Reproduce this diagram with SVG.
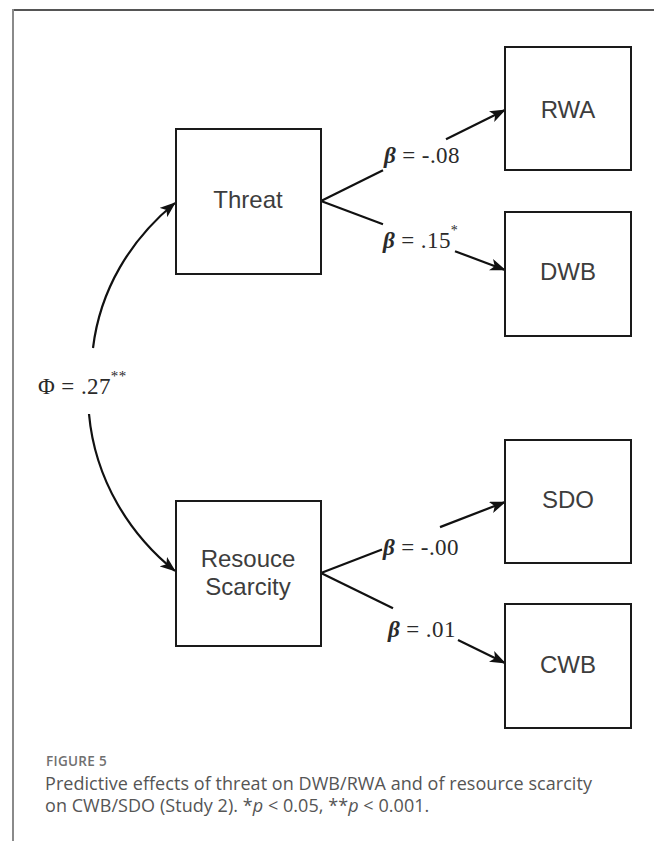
<svg xmlns="http://www.w3.org/2000/svg" width="654" height="841" viewBox="0 0 654 841">
  <style>
    .box { fill: #ffffff; stroke: #1a1a1a; stroke-width: 2; }
    .node-label { font-family: "Liberation Sans", Arial, sans-serif; font-size: 24px; fill: #3d3d3d; text-anchor: middle; }
    .edge { fill: none; stroke: #111111; stroke-width: 2.2; }
    .coef { font-family: "Liberation Serif", "Times New Roman", serif; font-size: 23px; fill: #2a2a2a; letter-spacing: 0.4px; }
    .beta { font-style: italic; font-weight: bold; }
    .cap-head { font-family: "Open Sans", "Noto Sans", sans-serif; font-size: 13.5px; font-weight: 600; fill: #707070; letter-spacing: 0.3px; }
    .cap { font-family: "Open Sans", "Noto Sans", sans-serif; font-size: 18px; fill: #555555; letter-spacing: 0.05px; }
  </style>
  <defs>
    <marker id="arrow" viewBox="0 0 16 12" refX="15" refY="6" markerWidth="16" markerHeight="12" markerUnits="userSpaceOnUse" orient="auto">
      <path d="M0,0 L16,6 L0,12 L4,6 Z" fill="#111111"/>
    </marker>
  </defs>

  <!-- panel frame -->
  <line x1="12" y1="10" x2="654" y2="10" stroke="#555555" stroke-width="2"/>
  <line x1="13" y1="9" x2="13" y2="841" stroke="#8a8a8a" stroke-width="2"/>

  <!-- connectors -->
  <g id="connectors">
    <!-- covariance between predictors -->
    <path class="edge" d="M93,348 C100,290 130,240 175,203" marker-end="url(#arrow)"/>
    <path class="edge" d="M89,414 C95,480 130,535 175,571" marker-end="url(#arrow)"/>
    <!-- Threat -> RWA -->
    <line class="edge" x1="321" y1="201" x2="383" y2="170.3"/>
    <line class="edge" x1="446" y1="139.2" x2="505" y2="110" marker-end="url(#arrow)"/>
    <!-- Threat -> DWB -->
    <line class="edge" x1="321" y1="201" x2="383" y2="224.2"/>
    <line class="edge" x1="455" y1="251.2" x2="505" y2="270" marker-end="url(#arrow)"/>
    <!-- Resource Scarcity -> SDO -->
    <line class="edge" x1="321" y1="573" x2="382" y2="549.5"/>
    <line class="edge" x1="440" y1="527.1" x2="505" y2="502" marker-end="url(#arrow)"/>
    <!-- Resource Scarcity -> CWB -->
    <line class="edge" x1="321" y1="573" x2="393" y2="608.2"/>
    <line class="edge" x1="458" y1="640" x2="505" y2="663" marker-end="url(#arrow)"/>

    <!-- path coefficients -->
    <text class="coef" x="384" y="163"><tspan class="beta">β</tspan> = -.08</text>
    <text class="coef" x="383" y="248"><tspan class="beta">β</tspan> = .15<tspan dy="-13" font-size="14">*</tspan></text>
    <text class="coef" x="383" y="555"><tspan class="beta">β</tspan> = -.00</text>
    <text class="coef" x="388" y="637"><tspan class="beta">β</tspan> = .01</text>
    <text class="coef" x="38" y="394">Φ = .27<tspan dy="-13" font-size="15">**</tspan></text>
  </g>

  <!-- predictors -->
  <g id="threat">
    <rect class="box" x="176" y="129" width="145" height="145"/>
    <text class="node-label" x="248" y="208">Threat</text>
  </g>
  <g id="resource-scarcity">
    <rect class="box" x="176" y="501" width="145" height="145"/>
    <text class="node-label" x="248" y="567">Resouce</text>
    <text class="node-label" x="248" y="595">Scarcity</text>
  </g>

  <!-- outcomes -->
  <g id="rwa">
    <rect class="box" x="505" y="47" width="126" height="123"/>
    <text class="node-label" x="568" y="118">RWA</text>
  </g>
  <g id="dwb">
    <rect class="box" x="505" y="212" width="126" height="124"/>
    <text class="node-label" x="568" y="280">DWB</text>
  </g>
  <g id="sdo">
    <rect class="box" x="505" y="440" width="126" height="123"/>
    <text class="node-label" x="568" y="508">SDO</text>
  </g>
  <g id="cwb">
    <rect class="box" x="505" y="604" width="126" height="124"/>
    <text class="node-label" x="568" y="673">CWB</text>
  </g>

  <!-- caption -->
  <text class="cap-head" x="46" y="766">FIGURE 5</text>
  <text class="cap" x="45" y="790">Predictive effects of threat on DWB/RWA and of resource scarcity</text>
  <text class="cap" x="45" y="812">on CWB/SDO (Study 2). *<tspan font-style="italic">p</tspan> &lt; 0.05, **<tspan font-style="italic">p</tspan> &lt; 0.001.</text>
</svg>
